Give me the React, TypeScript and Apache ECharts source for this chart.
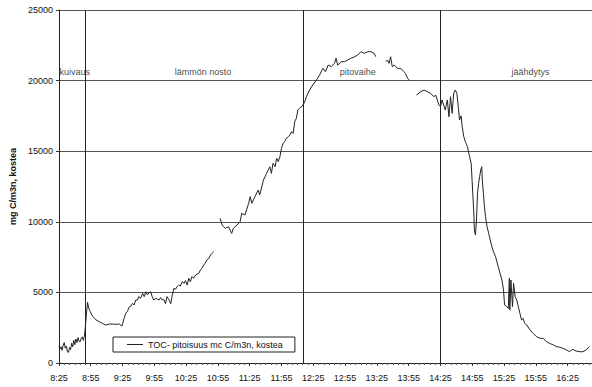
import React, { useEffect, useRef } from "react";
import * as echarts from "echarts";

// minutes since 8:25
const times: number[] = [
  0, 1, 2, 3, 4, 5, 6, 7, 8, 9, 10, 11, 12, 13, 14, 15, 16, 17, 18, 19, 20, 21, 22, 23, 24, 25, 26, 27, 28,
  29.5, 31, 32, 35, 38, 41, 44, 47.5, 50.5, 54, 57, 59.5, 61.5, 63, 64.5, 66.5, 68, 69.5, 71, 72.5, 74,
  75.5, 77, 79, 80.5, 82, 83.5, 85, 86.5, 88, 89.5, 91.5, 93, 94.5, 96, 97.5, 99, 100.5, 102, 104, 105.5,
  107, 108.5, 110, 111.5, 113, 114.5, 116.5, 118, 119.5, 121, 122.5, 124, 125.5, 127, 129, 130.5, 132,
  133.5, 135, 136.5, 138, 139.5, 141.5, 143, 144.5, 146,
  149,
  152, 154, 157, 160, 163, 164.5, 168, 171, 172.5, 175.5, 179, 180.5, 182, 185, 188, 189.5, 193, 196,
  197.5, 199, 200.5, 202, 204, 205.5, 207, 208.5, 210, 211.5, 213, 214.5, 216.5, 218, 219.5, 221, 222.5,
  224, 225.5, 227, 229, 230.5, 232, 233.5, 236.5, 239.5, 243, 246, 249, 251.5, 254, 257, 260, 261.5, 263,
  266.5, 269.5, 272.5, 275.5, 279, 282, 285, 288, 291.5, 294.5, 297.5, 299,
  303,
  308.5, 310, 311.5, 313, 314.5, 316.5, 319.5, 322.5, 325.5, 327, 329, 330.5,
  334,
  337.5, 341.5, 344.5, 347.5, 350.5, 354, 355.5, 357, 358.5, 360, 361.5, 363, 364.5, 366.5, 368, 369.5,
  371, 372.5, 374, 375.5, 377, 378, 379.5, 380.5, 382, 383.5, 385.5, 387.5, 389, 389.5, 390.5, 391.5, 392,
  393, 394, 395, 396, 397, 398, 399, 399.5, 400.5, 401.5, 402.5, 404, 405.5, 407, 408.5, 410, 412, 414.5,
  418, 419.5, 420.5, 422.5, 424, 425, 425.5, 426.5, 428, 429, 430.5, 432, 433.5, 435, 436.5, 438, 439.5,
  441.5, 444.5, 447.5, 450.5, 454, 457, 460, 463, 466.5, 469.5, 472.5, 475.5, 479, 482, 483.5, 485, 488,
  491.5, 494.5, 497.5, 500.5,
];

const toc: (number | null)[] = [
  1200, 1000, 1150, 900, 1250, 1450, 1050, 1200, 800, 750, 1100, 950, 1400, 1150, 1600, 1300, 1700, 1450,
  1800, 1550, 1500, 1750, 1850, 1600, 1900, 2600, 3500, 4300, 3900,
  3650, 3400, 3300, 3050, 2930, 2810, 2690, 2760, 2760, 2740, 2760, 2620, 3160, 3520, 3640, 3990, 4040,
  4230, 4110, 4460, 4460, 4700, 4580, 4930, 4700, 5050, 4820, 4980, 5050, 4700, 4460, 4580, 4510, 4460,
  4630, 4460, 4510, 4200, 4700, 4460, 4200, 4820, 5290, 5220, 5410, 5520, 5450, 5760, 5640, 5830, 5520,
  6000, 5760, 6120, 6000, 6230, 6300, 6350, 6590, 6700, 6940, 7060, 7290, 7410, 7650, 7770, 7880,
  null,
  10250, 9770, 9540, 9650, 9180, 9540, 9770, 10010, 10600, 10480, 11310, 11780, 11310, 11780, 12250,
  11900, 12960, 13430, 13670, 13900, 13430, 14140, 13900, 14500, 14260, 14610, 15200, 15560, 15670, 15910,
  16030, 16150, 16380, 16260, 17090, 17330, 17920, 18040, 18150, 18300, 18500, 18860, 19330, 19690, 20040,
  20400, 20870, 20630, 21100, 20990, 21220, 21580, 21100, 21340, 21340, 21460, 21580, 21690, 21810, 22050,
  21930, 22050, 22050, 21930, 21690,
  null,
  21340, 21460, 21220, 21690, 20990, 21100, 20870, 20870, 20630, 20510, 20160, 20040,
  null,
  18980, 19220, 19330, 19220, 19100, 18860, 18980, 18630, 18270, 18150, 18630, 18270, 17920, 18630, 17440,
  18860, 17680, 19100, 19330, 19100, 18000, 17210, 17500, 16740, 16030, 15670, 15320, 14610, 14140, 13430,
  12020, 10600, 9420, 9060, 10130, 12020, 12730, 13200, 13670, 13900, 12960, 12020, 11070, 10360, 9650,
  9180, 8710, 8240, 7880, 7530, 6820, 5880, 5170, 4110, 3990, 3870, 6000, 3750, 5880, 4000, 5640, 4700,
  4460, 3990, 3520, 3050, 3160, 2810, 2690, 2340, 2100, 1870, 1750, 1750, 1510, 1390, 1280, 1160, 1120,
  1040, 920, 800, 920, 960, 850, 800, 800, 920, 1160,
];

const phaseNames = ["kuivaus", "lämmön nosto", "pitovaihe", "jäähdytys"];
const phaseLabelTimes = [15, 136, 282, 445];
const phaseBoundaries = [25, 231, 360];

const seriesName = "TOC- pitoisuus mc C/m3n, kostea";
const yAxisName = "mg C/m3n, kostea";

const START_MIN = 8 * 60 + 25;
const fmtTime = (v: number) => {
  if (Math.abs(v % 30) > 1e-6) return "";
  const m = START_MIN + v;
  const h = Math.floor(m / 60);
  const mm = m % 60;
  return `${h}:${mm < 10 ? "0" + mm : mm}`;
};

export default function App() {
  const ref = useRef<HTMLDivElement>(null);
  useEffect(() => {
    if (!ref.current) return;
    const chart = echarts.init(ref.current, undefined, { renderer: "svg" });
    const font = "Arial, 'Liberation Sans', sans-serif";
    chart.setOption({
      animation: false,
      backgroundColor: "#fff",
      textStyle: { fontFamily: font },
      grid: { left: 56, right: 0, top: 10, bottom: 24, containLabel: false },
      legend: {
        data: [{ name: seriesName, icon: "rect" }],
        left: 113,
        top: 337,
        orient: "horizontal",
        itemWidth: 16,
        itemHeight: 1,
        itemGap: 4,
        padding: [3, 12, 3, 14],
        borderColor: "#222",
        borderWidth: 1,
        backgroundColor: "#fff",
        textStyle: { fontSize: 9, color: "#111", fontFamily: font },
      },
      xAxis: {
        type: "value",
        min: 0,
        max: 1008 - START_MIN,
        interval: 30,
        axisLine: { show: true, onZero: false, lineStyle: { color: "#222", width: 1 } },
        axisTick: { show: true, length: 3, lineStyle: { color: "#333" } },
        minorTick: { show: true, splitNumber: 6, length: 2, lineStyle: { color: "#555" } },
        splitLine: { show: false },
        axisLabel: {
          formatter: fmtTime,
          fontSize: 9,
          color: "#111",
          margin: 10,
          showMaxLabel: false,
          hideOverlap: false,
        },
      },
      yAxis: {
        type: "value",
        min: 0,
        max: 25000,
        interval: 5000,
        name: yAxisName,
        nameLocation: "middle",
        nameGap: 38,
        nameTextStyle: { fontSize: 9, fontWeight: "bold", color: "#111" },
        axisLine: { show: true, lineStyle: { color: "#222", width: 1 } },
        axisTick: { show: true, length: 3, lineStyle: { color: "#333" } },
        splitLine: { show: true, lineStyle: { color: "#555", width: 1 } },
        axisLabel: { fontSize: 9, color: "#111", margin: 6, formatter: (v: number) => String(v) },
      },
      series: [
        {
          name: seriesName,
          type: "line",
          data: times.map((t, i) => [t, toc[i] === null ? "-" : toc[i]]),
          showSymbol: false,
          symbol: "none",
          connectNulls: false,
          lineStyle: { color: "#222", width: 1 },
          itemStyle: { color: "#222" },
          markLine: {
            silent: true,
            symbol: ["none", "none"],
            label: { show: false },
            lineStyle: { color: "#222", width: 1, type: "solid" },
            data: phaseBoundaries.map((b) => ({ xAxis: b })),
          },
        },
        {
          name: "phases",
          type: "scatter",
          symbolSize: 0,
          data: phaseLabelTimes.map((t, i) => [t, 20000, phaseNames[i]]),
          label: {
            show: true,
            position: "top",
            distance: 4,
            formatter: (p: any) => p.data[2],
            fontSize: 9,
            color: "#111",
            fontFamily: font,
          },
          silent: true,
        },
      ],
    });
    return () => chart.dispose();
  }, []);
  return <div ref={ref} style={{ width: 592, height: 387, position: "absolute", left: 0, top: 0 }} />;
}
